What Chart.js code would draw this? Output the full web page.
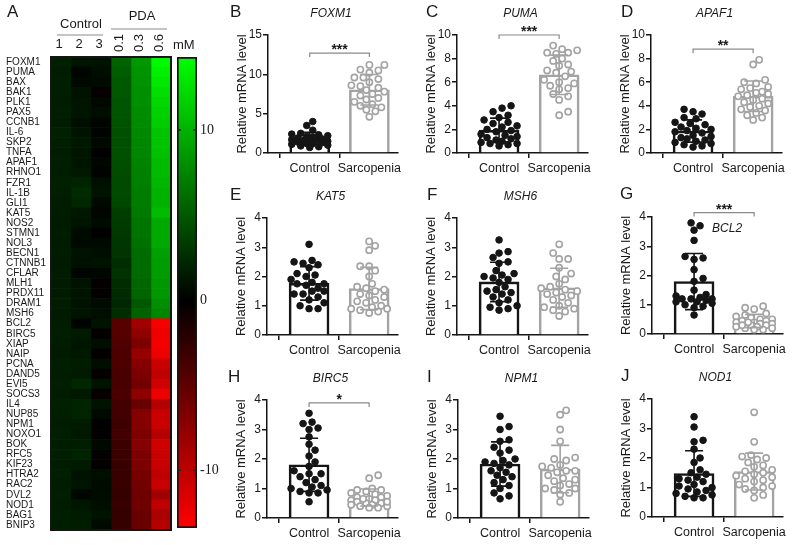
<!DOCTYPE html>
<html>
<head>
<meta charset="utf-8">
<script src="https://cdn.jsdelivr.net/npm/chart.js@4.4.1/dist/chart.umd.min.js"></script>
<style>
  body { margin: 0; background: #fff; }
  #wrap { position: relative; width: 800px; height: 545px; overflow: hidden; }
  #wrap canvas { position: absolute; }
</style>
</head>
<body>
<div id="wrap"></div>
<script>
// ---- heatmap (panel A) ----
const genes = ['FOXM1','PUMA','BAX','BAK1','PLK1','PAX5','CCNB1','IL-6','SKP2','TNFA','APAF1','RHNO1','FZR1','IL-1B','GLI1','KAT5','NOS2','STMN1','NOL3','BECN1','CTNNB1','CFLAR','MLH1','PRDX11','DRAM1','MSH6',
  'BCL2','BIRC5','XIAP','NAIP','PCNA','DAND5','EVI5','SOCS3','IL4','NUP85','NPM1','NOXO1','BOK','RFC5','KIF23','HTRA2','RAC2','DVL2','NOD1','BAG1','BNIP3'];
const heatColLabels = ['1', '2', '3', '0.1', '0.3', '0.6'];
const heatCtrl1 = [1.8,1.6,1.7,1.7,1.6,1.7,1.6,1.8,1.7,1.6, 1.7,1.6,1.8,1.7,1.6,1.6,1.5,1.6,1.5,1.6, 1.5,1.6,1.5,1.5,1.6,1.5,
  1.6,1.7,1.6,1.5,1.7,1.6,1.7,1.6,1.8,1.7, 1.6,1.7,1.6,1.7,1.6,1.7,1.6,1.7,1.6,1.7, 1.6];
const heatCtrl2 = [1.2,0.3,0.5,1.0,1.1,1.2,0.8,1.0,1.3,1.2, 1.2,1.4,2.0,2.4,2.2,1.3,1.1,0.6,0.5,1.0, 0.9,0.3,1.0,1.1,1.0,1.1,
  0.2,1.5,1.2,1.3,1.6,1.5,2.2,1.4,2.0,2.0, 1.5,1.3,1.6,2.0,1.5,1.0,1.2,0.4,1.2,1.5, 1.6];
const heatCtrl3 = [1.0,0.8,0.6,-0.3,0.5,0.8,0.3,0.2,0.5,0.0, 0.4,0.2,0.9,1.0,0.5,0.3,0.6,0.0,0.5,0.8, 1.0,0.4,-0.2,-0.2,0.6,0.8,
  1.0,-0.2,0.8,-0.2,0.8,-0.2,1.0,-0.3,1.0,0.5, 0.0,-0.1,0.5,-0.1,-0.2,0.8,0.6,0.7,0.8,1.0, 0.5];
const heatPda01 = [5.5,5.2,5.0,5.0,4.8,4.8,4.7,4.5,4.5,4.5, 4.4,4.3,4.2,4.2,4.0,3.5,3.3,3.2,3.1,3.0, 2.5,2.8,2.5,2.4,2.2,2.5,
  -4.5,-4.5,-4.2,-4.0,-4.0,-3.8,-3.8,-4.0,-3.5,-3.5, -3.3,-3.5,-3.2,-3.2,-3.0,-3.0,-3.0,-2.8,-3.0,-2.8, -2.8];
const heatPda03 = [8.5,8.3,8.2,8.0,8.0,7.8,7.8,7.6,7.5,7.5, 7.4,7.2,7.2,7.0,7.0,6.8,6.5,6.5,6.3,6.0, 6.0,6.0,5.8,5.8,5.0,5.5,
  -8.5,-7.5,-6.5,-8.0,-7.0,-6.5,-6.0,-7.5,-5.5,-7.0, -7.0,-6.5,-7.0,-6.5,-6.5,-6.2,-6.0,-5.8,-5.8,-5.5, -5.5];
const heatPda06 = [14.0,13.5,13.0,12.5,12.0,11.8,11.5,11.0,11.0,10.8, 10.5,10.5,10.2,10.0,10.0,10.5,9.5,9.5,9.5,9.0, 8.8,8.8,8.5,8.5,8.0,7.5,
  -13.0,-12.5,-12.8,-12.5,-10.5,-10.0,-11.0,-12.5,-9.5,-10.5, -10.5,-9.5,-11.0,-10.5,-10.5,-10.0,-10.5,-8.5,-10.0,-9.0, -9.5];
const cbMax = 14.3, cbMin = -13.4;
const cbTicks = [10, 0, -10];

// ---- qPCR panels (B-J) ----
const groupLabels = ['Control', 'Sarcopenia'];
const panelGenes = ['FOXM1', 'PUMA', 'APAF1', 'KAT5', 'MSH6', 'BCL2', 'BIRC5', 'NPM1', 'NOD1'];
const sigLabels = ['***', '***', '**', '', '', '***', '*', '', ''];
const ticksFoxm1 = [0, 5, 10, 15];
const ticksTen = [0, 2, 4, 6, 8, 10];
const ticksFour = [0, 1, 2, 3, 4];

const foxm1Control = [4.0,3.5,2.9,2.5,2.4,2.3,2.2,2.1,2.0,1.9,1.8,1.7,1.6,1.6,1.5,1.4,1.3,1.2,1.1,1.0,0.9,0.8,0.7,1.5,1.2];
const foxm1Sarcopenia = [11.2,11.2,10.6,10.5,10.2,9.6,9.6,9.4,9.0,8.6,8.5,8.3,8.0,7.8,7.5,7.3,7.0,6.8,6.5,6.2,6.0,5.8,5.5,5.3,4.6];
const pumaControl = [4.0,3.8,3.5,3.2,3.0,2.8,2.6,2.5,2.3,2.2,2.0,1.9,1.8,1.6,1.5,1.4,1.3,1.2,1.1,1.0,0.9,0.8,0.8,0.7,0.6];
const pumaSarcopenia = [9.1,8.8,8.7,8.5,8.5,8.4,8.0,7.8,7.5,7.4,7.0,6.9,6.8,6.5,6.2,6.0,5.9,5.7,5.5,5.4,5.0,4.8,4.5,3.5,3.2];
const apaf1Control = [3.7,3.5,3.3,3.0,2.9,2.6,2.5,2.4,2.2,2.1,2.0,1.9,1.8,1.7,1.5,1.4,1.3,1.2,1.1,1.0,0.9,0.8,0.7,0.6,0.5];
const apaf1Sarcopenia = [7.9,7.5,6.2,6.0,5.9,5.6,5.5,5.4,5.2,5.1,5.0,4.9,4.8,4.6,4.5,4.3,4.2,4.0,3.9,3.7,3.6,3.4,3.2,3.0,2.8];
const kat5Control = [3.1,2.55,2.5,2.45,2.4,2.3,2.1,2.05,2.0,1.9,1.8,1.75,1.75,1.7,1.6,1.5,1.5,1.4,1.3,1.2,1.1,1.0,0.9,0.9,1.4];
const kat5Sarcopenia = [3.2,3.05,2.9,2.35,2.35,2.2,2.0,1.75,1.65,1.6,1.55,1.5,1.4,1.35,1.3,1.2,1.15,1.1,1.0,0.95,0.9,0.9,0.85,0.8,0.75];
const msh6Control = [3.25,2.85,2.8,2.65,2.5,2.45,2.2,2.1,2.05,2.0,1.95,1.9,1.8,1.65,1.55,1.5,1.45,1.4,1.3,1.2,1.1,1.0,0.95,0.9,0.85];
const msh6Sarcopenia = [3.1,2.8,2.6,2.6,2.3,2.1,2.0,1.9,1.75,1.65,1.6,1.55,1.5,1.45,1.4,1.35,1.3,1.2,1.1,1.0,0.95,0.9,0.85,0.8,0.65];
const bcl2Control = [3.8,3.7,3.55,3.2,2.65,2.6,2.55,2.2,1.9,1.8,1.5,1.35,1.25,1.2,1.15,1.3,1.2,1.2,1.1,1.1,1.05,1.0,0.95,0.9,0.65];
const bcl2Sarcopenia = [0.95,0.9,0.85,0.7,0.65,0.6,0.55,0.5,0.5,0.45,0.45,0.4,0.4,0.35,0.35,0.3,0.3,0.25,0.25,0.2,0.2,0.15,0.15,0.3,0.4];
const birc5Control = [3.55,3.25,3.2,3.05,3.0,2.75,2.5,2.3,2.1,1.9,1.75,1.6,1.5,1.5,1.4,1.3,1.1,1.05,1.0,0.95,0.9,0.85,0.85,0.55,1.2];
const birc5Sarcopenia = [1.45,1.35,1.0,0.95,0.95,0.9,0.85,0.8,0.75,0.7,0.7,0.65,0.6,0.6,0.55,0.5,0.5,0.45,0.45,0.4,0.4,0.35,0.35,0.55,0.65];
const npm1Control = [3.45,3.1,3.0,2.65,2.6,2.4,2.3,2.2,2.0,1.95,1.9,1.85,1.8,1.7,1.6,1.55,1.45,1.4,1.3,1.2,1.1,1.0,0.85,0.75,0.65];
const npm1Sarcopenia = [3.65,3.5,3.0,2.6,2.05,2.0,1.95,1.8,1.75,1.7,1.6,1.6,1.55,1.45,1.35,1.3,1.25,1.15,1.1,1.0,1.0,0.95,0.85,0.8,0.55];
const nod1Control = [3.4,3.05,2.6,2.55,2.3,2.0,1.85,1.6,1.5,1.45,1.35,1.3,1.25,1.2,1.1,1.05,1.0,0.95,0.9,0.85,0.8,0.75,0.7,0.65,0.65];
const nod1Sarcopenia = [3.55,2.55,2.1,2.05,2.0,1.95,1.85,1.75,1.7,1.6,1.55,1.5,1.45,1.4,1.35,1.3,1.25,1.2,1.1,1.05,1.0,0.95,0.9,0.75,0.65];

Chart.defaults.font.family = '"Liberation Sans", Arial, sans-serif';
Chart.defaults.color = '#1a1a1a';
const wrap = document.getElementById('wrap');
const ink = '#151515';
const grey = '#a3a3a3';

function addCanvas(left, top, w, h) {
  const c = document.createElement('canvas');
  c.width = w; c.height = h;
  c.style.left = left + 'px'; c.style.top = top + 'px';
  wrap.appendChild(c);
  return c;
}

function heatColor(v) {
  if (v >= 0) return 'rgb(0,' + Math.round(Math.min(1, v / cbMax) * 255) + ',0)';
  return 'rgb(' + Math.round(Math.min(1, v / cbMin) * 255) + ',0,0)';
}

// header and frame of the heatmap
const heatDecor = {
  id: 'heatDecor',
  afterDraw(chart) {
    const { ctx, chartArea: a, scales: { x } } = chart;
    ctx.save();
    ctx.strokeStyle = ink; ctx.lineWidth = 2;
    ctx.strokeRect(a.left, a.top, a.right - a.left, a.bottom - a.top);
    ctx.fillStyle = '#1a1a1a';
    ctx.font = '17px "Liberation Sans", Arial';
    ctx.textAlign = 'left'; ctx.textBaseline = 'middle';
    ctx.fillText('A', 7, 12);
    ctx.font = '13px "Liberation Sans", Arial';
    ctx.textAlign = 'center';
    const cx = i => x.getPixelForValue(i + 0.5);
    ctx.fillText('Control', (cx(0) + cx(2)) / 2, 24);
    ctx.fillText('PDA', (cx(3) + cx(5)) / 2 + 1, 16);
    ctx.strokeStyle = '#8a8a8a'; ctx.lineWidth = 1;
    ctx.beginPath();
    ctx.moveTo(cx(0) - 4, 35); ctx.lineTo(cx(2) + 2, 35);
    ctx.moveTo(cx(3) - 10, 29); ctx.lineTo(cx(5) + 6, 29);
    ctx.stroke();
    heatColLabels.forEach((t, i) => {
      if (i < 3) {
        ctx.fillText(t, cx(i) - 2, 44);
      } else {
        ctx.save();
        ctx.translate(cx(i) - 2, 43);
        ctx.rotate(-Math.PI / 2);
        ctx.fillText(t, 0, 0);
        ctx.restore();
      }
    });
    ctx.textAlign = 'left';
    ctx.fillText('mM', a.right + 2, 45);
    ctx.restore();
  }
};

new Chart(addCanvas(0, 0, 225, 545), {
  type: 'bar',
  data: {
    labels: genes,
    datasets: [heatCtrl1, heatCtrl2, heatCtrl3, heatPda01, heatPda03, heatPda06].map(col => ({
      data: genes.map(() => 1),
      backgroundColor: col.map(heatColor),
      borderWidth: 0,
      barPercentage: 1,
      categoryPercentage: 1
    }))
  },
  options: {
    indexAxis: 'y',
    responsive: false,
    animation: false,
    layout: { padding: { left: 6, top: 57, right: 54, bottom: 15 } },
    plugins: { legend: { display: false }, tooltip: { enabled: false } },
    scales: {
      x: { type: 'linear', stacked: true, min: 0, max: 6, display: false },
      y: {
        stacked: true,
        grid: { display: false },
        border: { display: false },
        ticks: { autoSkip: false, crossAlign: 'far', padding: 0, color: '#1a1a1a', font: { size: 10 } },
        afterFit: s => { s.width = 45; }
      }
    }
  },
  plugins: [heatDecor]
});

// colour bar
const cbMarks = {
  id: 'cbMarks',
  afterDatasetsDraw(chart) {
    const { ctx, chartArea: a, scales: { y } } = chart;
    ctx.save();
    ctx.strokeStyle = '#222'; ctx.lineWidth = 1.5;
    cbTicks.forEach(v => {
      if (v === 0) return;
      const py = y.getPixelForValue(v);
      ctx.beginPath();
      ctx.moveTo(a.left, py); ctx.lineTo(a.left + 4, py);
      ctx.moveTo(a.right - 4, py); ctx.lineTo(a.right, py);
      ctx.stroke();
    });
    ctx.restore();
  }
};

new Chart(addCanvas(170, 0, 62, 545), {
  type: 'bar',
  data: {
    labels: [''],
    datasets: [{
      data: [[cbMin, cbMax]],
      backgroundColor: c => {
        const { chart } = c;
        if (!chart.chartArea) return '#000';
        const y = chart.scales.y;
        const g = chart.ctx.createLinearGradient(0, y.getPixelForValue(cbMax), 0, y.getPixelForValue(cbMin));
        g.addColorStop(0, 'rgb(0,255,0)');
        g.addColorStop(cbMax / (cbMax - cbMin), 'rgb(0,0,0)');
        g.addColorStop(1, 'rgb(255,0,0)');
        return g;
      },
      borderColor: ink,
      borderWidth: 2,
      borderSkipped: false,
      barPercentage: 1,
      categoryPercentage: 1
    }]
  },
  options: {
    responsive: false,
    animation: false,
    layout: { padding: { left: 7, top: 57, right: 0, bottom: 17 } },
    plugins: { legend: { display: false }, tooltip: { enabled: false } },
    scales: {
      x: { display: false },
      y: {
        position: 'right', min: cbMin, max: cbMax,
        grid: { display: false, drawTicks: false }, border: { display: false },
        afterBuildTicks: s => { s.ticks = cbTicks.map(v => ({ value: v })); },
        ticks: { padding: 3, color: '#1a1a1a', font: { family: '"Liberation Serif", "Times New Roman", serif', size: 14 } },
        afterFit: s => { s.width = 35; }
      }
    }
  },
  plugins: [cbMarks]
});

// bar + dot panels
const xMin = -0.7, xMax = 1.48;
const mean = a => a.reduce((s, v) => s + v, 0) / a.length;
const sd = a => { const m = mean(a); return Math.sqrt(a.reduce((s, v) => s + (v - m) * (v - m), 0) / (a.length - 1)); };

// simple beeswarm kept inside the bar width; dots may overlap when crowded
function swarm(values, center, pxX, pxY, diam, half) {
  const order = values.map((v, i) => i).sort((a, b) => values[a] - values[b]);
  const cands = [0];
  for (let d = 3; d <= half; d += 3) cands.push(d, -d);
  const placed = [];
  const out = [];
  order.forEach(i => {
    const yp = values[i] * pxY;
    let best = 0, bestGap = -1;
    for (const c of cands) {
      const gap = placed.reduce((m, p) => Math.min(m, Math.hypot(p.x - c, p.y - yp)), Infinity);
      if (gap >= diam) { best = c; bestGap = Infinity; break; }
      if (gap > bestGap) { bestGap = gap; best = c; }
    }
    placed.push({ x: best, y: yp });
    out[i] = { x: center + best / pxX, y: values[i] };
  });
  return out;
}

function makePanel(p) {
  const [bl, bt, bw, bh] = p.box;
  const [L, T, R, B] = p.area;
  const yMax = p.ticks[p.ticks.length - 1];
  const pxX = (R - L) / (xMax - xMin), pxY = (B - T) / yMax;
  const groups = [p.ctrl, p.sarc];
  const colors = [ink, grey];

  const decor = {
    id: 'decor',
    afterDatasetsDraw(chart) {
      const { ctx, scales: { x, y } } = chart;
      ctx.save();
      ctx.lineWidth = 1.6;
      groups.forEach((g, i) => {
        const m = mean(g), s = sd(g);
        const px = x.getPixelForValue(i);
        const t = y.getPixelForValue(m + s), b = y.getPixelForValue(Math.max(0, m - s));
        ctx.strokeStyle = colors[i];
        ctx.beginPath();
        ctx.moveTo(px, t); ctx.lineTo(px, b);
        ctx.moveTo(px - 9, t); ctx.lineTo(px + 9, t);
        ctx.moveTo(px - 9, b); ctx.lineTo(px + 9, b);
        ctx.stroke();
      });
      if (p.sig) {
        const yy = y.getPixelForValue(p.sigY);
        const x0 = x.getPixelForValue(0), x1 = x.getPixelForValue(1);
        ctx.strokeStyle = '#8a8a8a'; ctx.lineWidth = 1.2;
        ctx.beginPath();
        ctx.moveTo(x0, yy + 4); ctx.lineTo(x0, yy); ctx.lineTo(x1, yy); ctx.lineTo(x1, yy + 4);
        ctx.stroke();
        ctx.fillStyle = '#1a1a1a';
        ctx.font = 'bold 14px "Liberation Sans", Arial';
        ctx.textAlign = 'center'; ctx.textBaseline = 'alphabetic';
        ctx.fillText(p.sig, (x0 + x1) / 2, yy + 1);
      }
      ctx.restore();
    },
    afterDraw(chart) {
      const { ctx, chartArea: a, scales: { x, y } } = chart;
      ctx.save();
      ctx.fillStyle = '#1a1a1a';
      ctx.textBaseline = 'middle';
      ctx.font = '17px "Liberation Sans", Arial';
      ctx.textAlign = 'left';
      ctx.fillText(p.letter, p.letterX - bl, a.top - 23);
      ctx.font = 'italic 12px "Liberation Sans", Arial';
      ctx.textAlign = 'center';
      if (p.titleAt) ctx.fillText(p.gene, x.getPixelForValue(p.titleAt[0]), y.getPixelForValue(p.titleAt[1]));
      else ctx.fillText(p.gene, (a.left + a.right) / 2 - 2, a.top - 21);
      ctx.font = '13px "Liberation Sans", Arial';
      ctx.translate(a.left - 26, (a.top + a.bottom) / 2);
      ctx.rotate(-Math.PI / 2);
      ctx.fillText('Relative mRNA level', 0, 0);
      ctx.restore();
    }
  };

  new Chart(addCanvas(bl, bt, bw, bh), {
    type: 'bar',
    data: {
      datasets: [
        {
          type: 'scatter',
          data: swarm(p.ctrl, 0, pxX, pxY, 7, 18),
          pointRadius: 3.3, backgroundColor: ink, borderColor: ink, borderWidth: 1,
          clip: false, order: 1
        },
        {
          type: 'scatter',
          data: swarm(p.sarc, 1, pxX, pxY, 7, 18),
          pointRadius: 3.1, backgroundColor: '#fff', borderColor: grey, borderWidth: 1.6,
          clip: false, order: 2
        },
        {
          type: 'bar',
          data: groups.map((g, i) => ({ x: i, y: mean(g) })),
          backgroundColor: '#fff',
          borderColor: colors,
          borderWidth: 2.6,
          borderSkipped: 'start',
          barThickness: 40,
          order: 3
        }
      ]
    },
    options: {
      responsive: false,
      animation: false,
      layout: { padding: { left: 0, top: T - bt, right: bl + bw - R, bottom: 0 } },
      plugins: { legend: { display: false }, tooltip: { enabled: false } },
      scales: {
        x: {
          type: 'linear', min: xMin, max: xMax, offset: false,
          grid: { drawOnChartArea: false, tickLength: 5, color: ink, lineWidth: 1.5 },
          border: { color: ink, width: 1.5 },
          afterBuildTicks: s => { s.ticks = groupLabels.map((t, i) => ({ value: i })); },
          ticks: { padding: 3, color: '#1a1a1a', font: { size: 12.5 }, maxRotation: 0, callback: v => groupLabels[v] },
          afterFit: s => { s.height = bt + bh - B; }
        },
        y: {
          min: 0, max: yMax,
          grid: { drawOnChartArea: false, tickLength: 5, color: ink, lineWidth: 1.5 },
          border: { color: ink, width: 1.5 },
          afterBuildTicks: s => { s.ticks = p.ticks.map(v => ({ value: v })); },
          ticks: { padding: 1, color: '#1a1a1a', font: { size: 12 } },
          afterFit: s => { s.width = L - bl; }
        }
      }
    },
    plugins: [decor]
  });
}

const panelSeries = [
  [foxm1Control, foxm1Sarcopenia, ticksFoxm1],
  [pumaControl, pumaSarcopenia, ticksTen],
  [apaf1Control, apaf1Sarcopenia, ticksTen],
  [kat5Control, kat5Sarcopenia, ticksFour],
  [msh6Control, msh6Sarcopenia, ticksFour],
  [bcl2Control, bcl2Sarcopenia, ticksFour],
  [birc5Control, birc5Sarcopenia, ticksFour],
  [npm1Control, npm1Sarcopenia, ticksFour],
  [nod1Control, nod1Sarcopenia, ticksFour]
];
// layout of each panel: canvas box, plot area, letter position, bracket height
const panelLayout = [
  { letter: 'B', box: [225, 0, 195, 180], area: [268, 35, 398, 153], letterX: 230, sigY: 12.7 },
  { letter: 'C', box: [420, 0, 200, 180], area: [457, 35, 588, 153], letterX: 426, sigY: 10 },
  { letter: 'D', box: [620, 0, 180, 180], area: [651, 35, 782, 153], letterX: 621, sigY: 8.8 },
  { letter: 'E', box: [225, 180, 195, 180], area: [267, 218, 398, 335], letterX: 230 },
  { letter: 'F', box: [420, 180, 200, 180], area: [457, 218, 588, 335], letterX: 427 },
  { letter: 'G', box: [620, 180, 180, 180], area: [652, 217, 783, 334], letterX: 620, sigY: 4.15, titleAt: [0.55, 3.6] },
  { letter: 'H', box: [225, 360, 195, 185], area: [267, 400, 398, 518], letterX: 228, sigY: 3.9 },
  { letter: 'I', box: [420, 360, 200, 185], area: [458, 400, 589, 518], letterX: 427 },
  { letter: 'J', box: [620, 360, 180, 185], area: [652, 399, 783, 517], letterX: 621 }
];

panelLayout.forEach((lay, i) => {
  const [ctrl, sarc, ticks] = panelSeries[i];
  makePanel(Object.assign({}, lay, { gene: panelGenes[i], sig: sigLabels[i], ctrl, sarc, ticks }));
});
</script>
</body>
</html>
